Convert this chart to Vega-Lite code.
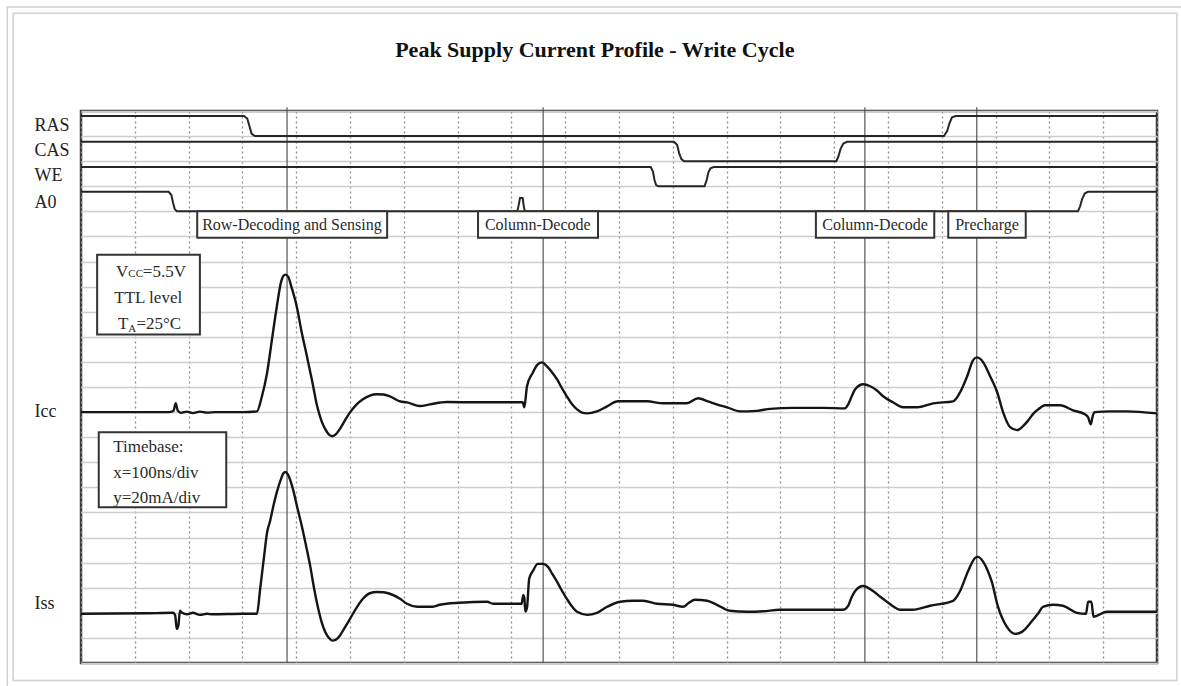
{
  "$schema": "https://vega.github.io/schema/vega-lite/v6.json",
  "width": 1076,
  "height": 552,
  "autosize": "none",
  "padding": {"left": 81, "top": 111, "right": 24, "bottom": 23},
  "background": "white",
  "config": {
    "view": {"stroke": "#3a3a3a", "strokeWidth": 2.5},
    "font": "Liberation Serif"
  },
  "datasets": {
    "digital": [
      {"s": "RAS", "t": 0, "v": 21.8}, {"s": "RAS", "t": 303, "v": 21.8}, {"s": "RAS", "t": 309, "v": 21.7}, {"s": "RAS", "t": 313, "v": 21.4}, {"s": "RAS", "t": 317, "v": 21.1}, {"s": "RAS", "t": 323, "v": 21.0}, {"s": "RAS", "t": 1604, "v": 21.0}, {"s": "RAS", "t": 1610, "v": 21.2}, {"s": "RAS", "t": 1614, "v": 21.5}, {"s": "RAS", "t": 1619, "v": 21.75}, {"s": "RAS", "t": 1626, "v": 21.8}, {"s": "RAS", "t": 2000, "v": 21.8},
      {"s": "CAS", "t": 0, "v": 20.77}, {"s": "CAS", "t": 1102, "v": 20.77}, {"s": "CAS", "t": 1108, "v": 20.65}, {"s": "CAS", "t": 1112, "v": 20.3}, {"s": "CAS", "t": 1116, "v": 20.08}, {"s": "CAS", "t": 1121, "v": 20.0}, {"s": "CAS", "t": 1404, "v": 20.0}, {"s": "CAS", "t": 1408, "v": 20.2}, {"s": "CAS", "t": 1412, "v": 20.5}, {"s": "CAS", "t": 1417, "v": 20.7}, {"s": "CAS", "t": 1424, "v": 20.77}, {"s": "CAS", "t": 2000, "v": 20.77},
      {"s": "WE", "t": 0, "v": 19.77}, {"s": "WE", "t": 1059, "v": 19.77}, {"s": "WE", "t": 1063, "v": 19.6}, {"s": "WE", "t": 1066, "v": 19.25}, {"s": "WE", "t": 1069, "v": 19.05}, {"s": "WE", "t": 1073, "v": 19.0}, {"s": "WE", "t": 1159, "v": 19.0}, {"s": "WE", "t": 1163, "v": 19.25}, {"s": "WE", "t": 1166, "v": 19.55}, {"s": "WE", "t": 1170, "v": 19.72}, {"s": "WE", "t": 1176, "v": 19.77}, {"s": "WE", "t": 2000, "v": 19.77},
      {"s": "A0", "t": 0, "v": 18.78}, {"s": "A0", "t": 163, "v": 18.78}, {"s": "A0", "t": 168, "v": 18.65}, {"s": "A0", "t": 171, "v": 18.35}, {"s": "A0", "t": 174, "v": 18.1}, {"s": "A0", "t": 178, "v": 18.0}, {"s": "A0", "t": 811, "v": 18.0}, {"s": "A0", "t": 814, "v": 18.3}, {"s": "A0", "t": 816, "v": 18.53}, {"s": "A0", "t": 821, "v": 18.53}, {"s": "A0", "t": 823, "v": 18.2}, {"s": "A0", "t": 825, "v": 18.0}, {"s": "A0", "t": 1853, "v": 18.0}, {"s": "A0", "t": 1857, "v": 18.2}, {"s": "A0", "t": 1861, "v": 18.5}, {"s": "A0", "t": 1866, "v": 18.72}, {"s": "A0", "t": 1872, "v": 18.78}, {"s": "A0", "t": 2000, "v": 18.78}
    ],
    "currents": [
      {"s": "Icc", "t": 0, "v": 10.0}, {"s": "Icc", "t": 120, "v": 10.0}, {"s": "Icc", "t": 165, "v": 10.0}, {"s": "Icc", "t": 172, "v": 10.05}, {"s": "Icc", "t": 176, "v": 10.35}, {"s": "Icc", "t": 180, "v": 10.05}, {"s": "Icc", "t": 186, "v": 9.97}, {"s": "Icc", "t": 197, "v": 10.02}, {"s": "Icc", "t": 208, "v": 9.96}, {"s": "Icc", "t": 221, "v": 10.02}, {"s": "Icc", "t": 234, "v": 9.98}, {"s": "Icc", "t": 250, "v": 10.0}, {"s": "Icc", "t": 300, "v": 10.0}, {"s": "Icc", "t": 327, "v": 10.03}, {"s": "Icc", "t": 336, "v": 10.6}, {"s": "Icc", "t": 346, "v": 11.58}, {"s": "Icc", "t": 355, "v": 12.9}, {"s": "Icc", "t": 364, "v": 14.21}, {"s": "Icc", "t": 372, "v": 15.2}, {"s": "Icc", "t": 376, "v": 15.42}, {"s": "Icc", "t": 380, "v": 15.48}, {"s": "Icc", "t": 385, "v": 15.4}, {"s": "Icc", "t": 391, "v": 15.0}, {"s": "Icc", "t": 401, "v": 14.21}, {"s": "Icc", "t": 410, "v": 13.2}, {"s": "Icc", "t": 420, "v": 12.22}, {"s": "Icc", "t": 430, "v": 11.2}, {"s": "Icc", "t": 439, "v": 10.23}, {"s": "Icc", "t": 447, "v": 9.65}, {"s": "Icc", "t": 454, "v": 9.32}, {"s": "Icc", "t": 461, "v": 9.1}, {"s": "Icc", "t": 467, "v": 9.04}, {"s": "Icc", "t": 474, "v": 9.12}, {"s": "Icc", "t": 481, "v": 9.32}, {"s": "Icc", "t": 490, "v": 9.65}, {"s": "Icc", "t": 500, "v": 9.99}, {"s": "Icc", "t": 512, "v": 10.3}, {"s": "Icc", "t": 524, "v": 10.51}, {"s": "Icc", "t": 537, "v": 10.66}, {"s": "Icc", "t": 550, "v": 10.71}, {"s": "Icc", "t": 562, "v": 10.7}, {"s": "Icc", "t": 574, "v": 10.63}, {"s": "Icc", "t": 593, "v": 10.43}, {"s": "Icc", "t": 606, "v": 10.39}, {"s": "Icc", "t": 630, "v": 10.24}, {"s": "Icc", "t": 649, "v": 10.31}, {"s": "Icc", "t": 680, "v": 10.4}, {"s": "Icc", "t": 740, "v": 10.39}, {"s": "Icc", "t": 800, "v": 10.39}, {"s": "Icc", "t": 821, "v": 10.39}, {"s": "Icc", "t": 824, "v": 10.19}, {"s": "Icc", "t": 829, "v": 11.03}, {"s": "Icc", "t": 840, "v": 11.58}, {"s": "Icc", "t": 849, "v": 11.9}, {"s": "Icc", "t": 857, "v": 11.98}, {"s": "Icc", "t": 866, "v": 11.82}, {"s": "Icc", "t": 875, "v": 11.6}, {"s": "Icc", "t": 885, "v": 11.3}, {"s": "Icc", "t": 894, "v": 10.95}, {"s": "Icc", "t": 903, "v": 10.63}, {"s": "Icc", "t": 912, "v": 10.33}, {"s": "Icc", "t": 922, "v": 10.11}, {"s": "Icc", "t": 931, "v": 9.98}, {"s": "Icc", "t": 941, "v": 9.95}, {"s": "Icc", "t": 959, "v": 10.03}, {"s": "Icc", "t": 978, "v": 10.23}, {"s": "Icc", "t": 998, "v": 10.43}, {"s": "Icc", "t": 1052, "v": 10.43}, {"s": "Icc", "t": 1082, "v": 10.35}, {"s": "Icc", "t": 1126, "v": 10.35}, {"s": "Icc", "t": 1147, "v": 10.55}, {"s": "Icc", "t": 1165, "v": 10.43}, {"s": "Icc", "t": 1183, "v": 10.3}, {"s": "Icc", "t": 1201, "v": 10.19}, {"s": "Icc", "t": 1225, "v": 10.03}, {"s": "Icc", "t": 1256, "v": 10.05}, {"s": "Icc", "t": 1281, "v": 10.13}, {"s": "Icc", "t": 1323, "v": 10.17}, {"s": "Icc", "t": 1380, "v": 10.17}, {"s": "Icc", "t": 1420, "v": 10.15}, {"s": "Icc", "t": 1426, "v": 10.31}, {"s": "Icc", "t": 1432, "v": 10.6}, {"s": "Icc", "t": 1439, "v": 10.91}, {"s": "Icc", "t": 1454, "v": 11.11}, {"s": "Icc", "t": 1467, "v": 11.03}, {"s": "Icc", "t": 1480, "v": 10.85}, {"s": "Icc", "t": 1491, "v": 10.63}, {"s": "Icc", "t": 1509, "v": 10.39}, {"s": "Icc", "t": 1528, "v": 10.19}, {"s": "Icc", "t": 1554, "v": 10.19}, {"s": "Icc", "t": 1584, "v": 10.35}, {"s": "Icc", "t": 1621, "v": 10.43}, {"s": "Icc", "t": 1634, "v": 10.79}, {"s": "Icc", "t": 1647, "v": 11.42}, {"s": "Icc", "t": 1658, "v": 12.06}, {"s": "Icc", "t": 1665, "v": 12.18}, {"s": "Icc", "t": 1671, "v": 12.13}, {"s": "Icc", "t": 1677, "v": 11.98}, {"s": "Icc", "t": 1690, "v": 11.42}, {"s": "Icc", "t": 1703, "v": 10.79}, {"s": "Icc", "t": 1714, "v": 9.99}, {"s": "Icc", "t": 1727, "v": 9.4}, {"s": "Icc", "t": 1740, "v": 9.28}, {"s": "Icc", "t": 1751, "v": 9.44}, {"s": "Icc", "t": 1760, "v": 9.65}, {"s": "Icc", "t": 1769, "v": 9.91}, {"s": "Icc", "t": 1780, "v": 10.12}, {"s": "Icc", "t": 1792, "v": 10.27}, {"s": "Icc", "t": 1820, "v": 10.27}, {"s": "Icc", "t": 1844, "v": 10.07}, {"s": "Icc", "t": 1866, "v": 9.91}, {"s": "Icc", "t": 1872, "v": 9.79}, {"s": "Icc", "t": 1877, "v": 9.51}, {"s": "Icc", "t": 1880, "v": 9.8}, {"s": "Icc", "t": 1884, "v": 10.0}, {"s": "Icc", "t": 1913, "v": 10.03}, {"s": "Icc", "t": 1944, "v": 10.03}, {"s": "Icc", "t": 2000, "v": 9.95},
      {"s": "Iss", "t": 0, "v": 1.96}, {"s": "Iss", "t": 120, "v": 1.98}, {"s": "Iss", "t": 171, "v": 2.0}, {"s": "Iss", "t": 175, "v": 1.9}, {"s": "Iss", "t": 178, "v": 1.36}, {"s": "Iss", "t": 181, "v": 1.5}, {"s": "Iss", "t": 184, "v": 2.08}, {"s": "Iss", "t": 188, "v": 2.0}, {"s": "Iss", "t": 197, "v": 1.94}, {"s": "Iss", "t": 208, "v": 2.0}, {"s": "Iss", "t": 221, "v": 1.92}, {"s": "Iss", "t": 234, "v": 1.96}, {"s": "Iss", "t": 245, "v": 1.94}, {"s": "Iss", "t": 300, "v": 1.96}, {"s": "Iss", "t": 327, "v": 1.96}, {"s": "Iss", "t": 333, "v": 2.95}, {"s": "Iss", "t": 340, "v": 4.2}, {"s": "Iss", "t": 346, "v": 5.22}, {"s": "Iss", "t": 351, "v": 5.62}, {"s": "Iss", "t": 358, "v": 6.3}, {"s": "Iss", "t": 364, "v": 6.81}, {"s": "Iss", "t": 372, "v": 7.35}, {"s": "Iss", "t": 376, "v": 7.55}, {"s": "Iss", "t": 380, "v": 7.61}, {"s": "Iss", "t": 385, "v": 7.5}, {"s": "Iss", "t": 394, "v": 6.93}, {"s": "Iss", "t": 402, "v": 6.2}, {"s": "Iss", "t": 411, "v": 5.4}, {"s": "Iss", "t": 420, "v": 4.5}, {"s": "Iss", "t": 426, "v": 3.87}, {"s": "Iss", "t": 433, "v": 3.0}, {"s": "Iss", "t": 441, "v": 2.16}, {"s": "Iss", "t": 447, "v": 1.65}, {"s": "Iss", "t": 454, "v": 1.24}, {"s": "Iss", "t": 461, "v": 1.0}, {"s": "Iss", "t": 467, "v": 0.89}, {"s": "Iss", "t": 474, "v": 0.93}, {"s": "Iss", "t": 481, "v": 1.09}, {"s": "Iss", "t": 490, "v": 1.4}, {"s": "Iss", "t": 500, "v": 1.76}, {"s": "Iss", "t": 512, "v": 2.2}, {"s": "Iss", "t": 524, "v": 2.56}, {"s": "Iss", "t": 537, "v": 2.78}, {"s": "Iss", "t": 550, "v": 2.83}, {"s": "Iss", "t": 562, "v": 2.82}, {"s": "Iss", "t": 574, "v": 2.76}, {"s": "Iss", "t": 593, "v": 2.56}, {"s": "Iss", "t": 606, "v": 2.36}, {"s": "Iss", "t": 625, "v": 2.24}, {"s": "Iss", "t": 654, "v": 2.24}, {"s": "Iss", "t": 667, "v": 2.32}, {"s": "Iss", "t": 704, "v": 2.4}, {"s": "Iss", "t": 755, "v": 2.44}, {"s": "Iss", "t": 766, "v": 2.36}, {"s": "Iss", "t": 819, "v": 2.36}, {"s": "Iss", "t": 822, "v": 2.7}, {"s": "Iss", "t": 824, "v": 2.6}, {"s": "Iss", "t": 826, "v": 2.05}, {"s": "Iss", "t": 829, "v": 2.2}, {"s": "Iss", "t": 833, "v": 3.35}, {"s": "Iss", "t": 840, "v": 3.67}, {"s": "Iss", "t": 849, "v": 3.95}, {"s": "Iss", "t": 859, "v": 3.95}, {"s": "Iss", "t": 868, "v": 3.83}, {"s": "Iss", "t": 876, "v": 3.55}, {"s": "Iss", "t": 885, "v": 3.23}, {"s": "Iss", "t": 894, "v": 2.88}, {"s": "Iss", "t": 903, "v": 2.56}, {"s": "Iss", "t": 912, "v": 2.27}, {"s": "Iss", "t": 922, "v": 2.04}, {"s": "Iss", "t": 941, "v": 1.92}, {"s": "Iss", "t": 959, "v": 2.0}, {"s": "Iss", "t": 978, "v": 2.24}, {"s": "Iss", "t": 1002, "v": 2.44}, {"s": "Iss", "t": 1026, "v": 2.48}, {"s": "Iss", "t": 1045, "v": 2.48}, {"s": "Iss", "t": 1071, "v": 2.36}, {"s": "Iss", "t": 1100, "v": 2.32}, {"s": "Iss", "t": 1119, "v": 2.24}, {"s": "Iss", "t": 1130, "v": 2.4}, {"s": "Iss", "t": 1141, "v": 2.52}, {"s": "Iss", "t": 1164, "v": 2.48}, {"s": "Iss", "t": 1182, "v": 2.32}, {"s": "Iss", "t": 1206, "v": 2.08}, {"s": "Iss", "t": 1238, "v": 2.04}, {"s": "Iss", "t": 1268, "v": 2.06}, {"s": "Iss", "t": 1299, "v": 2.12}, {"s": "Iss", "t": 1355, "v": 2.12}, {"s": "Iss", "t": 1416, "v": 2.12}, {"s": "Iss", "t": 1426, "v": 2.28}, {"s": "Iss", "t": 1432, "v": 2.6}, {"s": "Iss", "t": 1439, "v": 2.87}, {"s": "Iss", "t": 1454, "v": 3.07}, {"s": "Iss", "t": 1472, "v": 2.87}, {"s": "Iss", "t": 1485, "v": 2.65}, {"s": "Iss", "t": 1498, "v": 2.44}, {"s": "Iss", "t": 1510, "v": 2.25}, {"s": "Iss", "t": 1522, "v": 2.12}, {"s": "Iss", "t": 1546, "v": 2.12}, {"s": "Iss", "t": 1578, "v": 2.28}, {"s": "Iss", "t": 1621, "v": 2.48}, {"s": "Iss", "t": 1634, "v": 2.87}, {"s": "Iss", "t": 1649, "v": 3.67}, {"s": "Iss", "t": 1662, "v": 4.19}, {"s": "Iss", "t": 1667, "v": 4.23}, {"s": "Iss", "t": 1677, "v": 4.03}, {"s": "Iss", "t": 1685, "v": 3.7}, {"s": "Iss", "t": 1693, "v": 3.23}, {"s": "Iss", "t": 1704, "v": 2.28}, {"s": "Iss", "t": 1712, "v": 1.8}, {"s": "Iss", "t": 1721, "v": 1.44}, {"s": "Iss", "t": 1736, "v": 1.16}, {"s": "Iss", "t": 1749, "v": 1.24}, {"s": "Iss", "t": 1768, "v": 1.68}, {"s": "Iss", "t": 1780, "v": 2.0}, {"s": "Iss", "t": 1788, "v": 2.24}, {"s": "Iss", "t": 1807, "v": 2.32}, {"s": "Iss", "t": 1825, "v": 2.28}, {"s": "Iss", "t": 1851, "v": 2.0}, {"s": "Iss", "t": 1868, "v": 1.96}, {"s": "Iss", "t": 1872, "v": 2.44}, {"s": "Iss", "t": 1878, "v": 2.44}, {"s": "Iss", "t": 1882, "v": 1.84}, {"s": "Iss", "t": 1888, "v": 1.88}, {"s": "Iss", "t": 1907, "v": 2.04}, {"s": "Iss", "t": 1944, "v": 2.04}, {"s": "Iss", "t": 2000, "v": 2.04}
    ],
    "markers": [{"t": 383}, {"t": 859}, {"t": 1457}, {"t": 1665}],
    "boxes": [
      {"t1": 216, "t2": 569, "v1": 16.95, "v2": 18.0},
      {"t1": 738, "t2": 961, "v1": 16.95, "v2": 18.0},
      {"t1": 1366, "t2": 1586, "v1": 16.95, "v2": 18.0},
      {"t1": 1612, "t2": 1756, "v1": 16.95, "v2": 18.0},
      {"t1": 30, "t2": 221, "v1": 13.09, "v2": 16.27},
      {"t1": 33, "t2": 270, "v1": 6.21, "v2": 9.2}
    ],
    "phaseLabels": [
      {"text": "Row-Decoding and Sensing", "t": 392, "v": 17.45},
      {"text": "Column-Decode", "t": 849, "v": 17.45},
      {"text": "Column-Decode", "t": 1476, "v": 17.45},
      {"text": "Precharge", "t": 1684, "v": 17.45}
    ],
    "noteCenter": [
      {"text": "TTL level", "t": 125, "v": 14.56}
    ],
    "noteLeft": [
      {"text": "Timebase:", "t": 60, "v": 8.6},
      {"text": "x=100ns/div", "t": 60, "v": 7.57},
      {"text": "y=20mA/div", "t": 60, "v": 6.57},
      {"text": "V", "t": 65, "v": 15.6},
      {"text": "=5.5V", "t": 115, "v": 15.6},
      {"text": "T", "t": 69, "v": 13.53},
      {"text": "=25°C", "t": 103, "v": 13.53}
    ],
    "noteSmall": [
      {"text": "CC", "t": 88, "v": 15.5},
      {"text": "A", "t": 88, "v": 13.31}
    ],
    "frames": [
      {"t1": -137, "t2": 2050, "v1": -0.95, "v2": 26.14},
      {"t1": -126, "t2": 2037, "v1": -0.7, "v2": 25.9}
    ],
    "titles": [
      {"text": "Peak Supply Current Profile - Write Cycle", "t": 955, "v": 24.43}
    ]
  },
  "resolve": {"axis": {"x": "independent", "y": "independent"}},
  "layer": [
    {
      "data": {"name": "frames"},
      "mark": {"type": "rect", "filled": false, "stroke": "#d0d0d0", "strokeWidth": 1.5},
      "encoding": {
        "x": {"field": "t1", "type": "quantitative", "scale": {"domain": [0, 2000], "nice": false, "zero": false}, "axis": null},
        "x2": {"field": "t2"},
        "y": {"field": "v1", "type": "quantitative", "scale": {"domain": [0, 22], "nice": false, "zero": false}, "axis": null},
        "y2": {"field": "v2"}
      }
    },
    {
      "data": {"name": "markers"},
      "mark": {"type": "rule", "color": "#555555", "strokeWidth": 1.2},
      "encoding": {
        "x": {"field": "t", "type": "quantitative", "scale": {"domain": [0, 2000], "nice": false, "zero": false}, "axis": null},
        "y": {"datum": 0, "type": "quantitative", "scale": {"domain": [0, 22], "nice": false, "zero": false}, "axis": null},
        "y2": {"datum": 22.15}
      }
    },
    {
      "data": {"name": "digital"},
      "mark": {"type": "line", "color": "#262626", "strokeWidth": 2},
      "encoding": {
        "x": {"field": "t", "type": "quantitative", "scale": {"domain": [0, 2000], "nice": false, "zero": false},
          "axis": {"values": [0, 100, 200, 300, 400, 500, 600, 700, 800, 900, 1000, 1100, 1200, 1300, 1400, 1500, 1600, 1700, 1800, 1900, 2000], "labels": false, "ticks": false, "domain": false, "title": null, "grid": true, "gridDash": [2, 3], "gridColor": "#8c8c8c", "gridWidth": 1.3}},
        "y": {"field": "v", "type": "quantitative", "scale": {"domain": [0, 22], "nice": false, "zero": false},
          "axis": {"orient": "left", "values": [21.44, 20.41, 19.42, 18.34, 10.03, 2.36], "labelExpr": "datum.value > 21 ? 'RAS' : datum.value > 20 ? 'CAS' : datum.value > 19 ? 'WE' : datum.value > 18 ? 'A0' : datum.value > 5 ? 'Icc' : 'Iss'", "grid": false, "ticks": false, "tickSize": 0, "domain": false, "title": null, "labelFont": "Liberation Serif", "labelFontSize": 18, "labelColor": "#222222", "labelAlign": "left", "labelBaseline": "middle", "labelPadding": 47, "labelOverlap": false, "labelFlush": false}},
        "detail": {"field": "s", "type": "nominal"}
      }
    },
    {
      "data": {"name": "currents"},
      "mark": {"type": "line", "color": "#151515", "strokeWidth": 2.4, "interpolate": "monotone"},
      "encoding": {
        "x": {"field": "t", "type": "quantitative", "scale": {"domain": [0, 2000], "nice": false, "zero": false}, "axis": null},
        "y": {"field": "v", "type": "quantitative", "scale": {"domain": [0, 22], "nice": false, "zero": false},
          "axis": {"orient": "right", "values": [0, 1, 2, 3, 4, 5, 6, 7, 8, 9, 10, 11, 12, 13, 14, 15, 16, 17, 18, 19, 20, 21, 22], "labels": false, "ticks": false, "domain": false, "title": null, "grid": true, "gridColor": "#cdcdcd", "gridWidth": 1.5}},
        "detail": {"field": "s", "type": "nominal"}
      }
    },
    {
      "data": {"name": "boxes"},
      "mark": {"type": "rect", "fill": "white", "stroke": "#333333", "strokeWidth": 2},
      "encoding": {
        "x": {"field": "t1", "type": "quantitative", "scale": {"domain": [0, 2000], "nice": false, "zero": false}, "axis": null},
        "x2": {"field": "t2"},
        "y": {"field": "v1", "type": "quantitative", "scale": {"domain": [0, 22], "nice": false, "zero": false}, "axis": null},
        "y2": {"field": "v2"}
      }
    },
    {
      "data": {"name": "phaseLabels"},
      "mark": {"type": "text", "font": "Liberation Serif", "fontSize": 16, "color": "#2a2a2a", "align": "center", "baseline": "middle"},
      "encoding": {
        "x": {"field": "t", "type": "quantitative", "scale": {"domain": [0, 2000], "nice": false, "zero": false}, "axis": null},
        "y": {"field": "v", "type": "quantitative", "scale": {"domain": [0, 22], "nice": false, "zero": false}, "axis": null},
        "text": {"field": "text"}
      }
    },
    {
      "data": {"name": "noteCenter"},
      "mark": {"type": "text", "font": "Liberation Serif", "fontSize": 17, "color": "#2a2a2a", "align": "center", "baseline": "middle"},
      "encoding": {
        "x": {"field": "t", "type": "quantitative", "scale": {"domain": [0, 2000], "nice": false, "zero": false}, "axis": null},
        "y": {"field": "v", "type": "quantitative", "scale": {"domain": [0, 22], "nice": false, "zero": false}, "axis": null},
        "text": {"field": "text"}
      }
    },
    {
      "data": {"name": "noteLeft"},
      "mark": {"type": "text", "font": "Liberation Serif", "fontSize": 17, "color": "#2a2a2a", "align": "left", "baseline": "middle"},
      "encoding": {
        "x": {"field": "t", "type": "quantitative", "scale": {"domain": [0, 2000], "nice": false, "zero": false}, "axis": null},
        "y": {"field": "v", "type": "quantitative", "scale": {"domain": [0, 22], "nice": false, "zero": false}, "axis": null},
        "text": {"field": "text"}
      }
    },
    {
      "data": {"name": "noteSmall"},
      "mark": {"type": "text", "font": "Liberation Serif", "fontSize": 11, "color": "#2a2a2a", "align": "left", "baseline": "middle"},
      "encoding": {
        "x": {"field": "t", "type": "quantitative", "scale": {"domain": [0, 2000], "nice": false, "zero": false}, "axis": null},
        "y": {"field": "v", "type": "quantitative", "scale": {"domain": [0, 22], "nice": false, "zero": false}, "axis": null},
        "text": {"field": "text"}
      }
    },
    {
      "data": {"name": "titles"},
      "mark": {"type": "text", "font": "Liberation Serif", "fontSize": 22, "fontWeight": "bold", "color": "#111111", "align": "center", "baseline": "middle"},
      "encoding": {
        "x": {"field": "t", "type": "quantitative", "scale": {"domain": [0, 2000], "nice": false, "zero": false}, "axis": null},
        "y": {"field": "v", "type": "quantitative", "scale": {"domain": [0, 22], "nice": false, "zero": false}, "axis": null},
        "text": {"field": "text"}
      }
    }
  ]
}
